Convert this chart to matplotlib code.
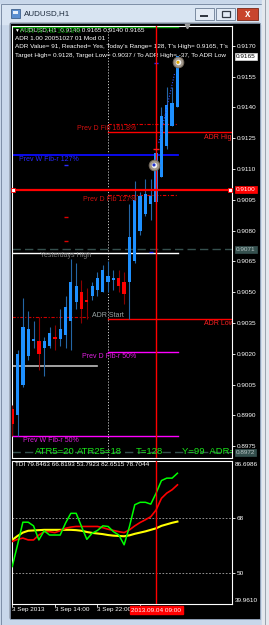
#!/usr/bin/env python3
"""AUDUSD H1 MetaTrader chart: candles with ADR / Fib levels and a TDI subwindow."""

import matplotlib

matplotlib.use("Agg")
import matplotlib.pyplot as plt
import numpy as np
from matplotlib.patches import Rectangle

W, H = 269, 625
PX = 0.72  # one pixel in points at dpi 100

# hourly bars, 3 Sep 2013 06:00 -> 4 Sep 2013 13:00
OPEN = [0.8993, 0.8990, 0.9005, 0.9019, 0.9026, 0.9026, 0.9023, 0.9024,
        0.9028, 0.9027, 0.9029, 0.9036, 0.9045, 0.9050, 0.9046, 0.9048,
        0.9051, 0.9050, 0.9055, 0.9056, 0.9057, 0.9055, 0.9055, 0.9065,
        0.9080, 0.9088, 0.9093, 0.9094, 0.9106, 0.9121, 0.9131, 0.9140]
HIGH = [0.8995, 0.9022, 0.9047, 0.9041, 0.9036, 0.9038, 0.9028, 0.9033,
        0.9034, 0.9042, 0.9048, 0.9066, 0.9064, 0.9056, 0.9052, 0.9055,
        0.9060, 0.9063, 0.9065, 0.9061, 0.9061, 0.9060, 0.9093, 0.9104,
        0.9099, 0.9105, 0.9105, 0.9120, 0.9140, 0.9150, 0.9150, 0.9165]
LOW = [0.8980, 0.8980, 0.9004, 0.9017, 0.9023, 0.9012, 0.9009, 0.9023,
       0.9022, 0.9024, 0.9023, 0.9022, 0.9042, 0.9035, 0.9037, 0.9046,
       0.9048, 0.9050, 0.9050, 0.9051, 0.9050, 0.9044, 0.9037, 0.9064,
       0.9078, 0.9087, 0.9085, 0.9093, 0.9106, 0.9120, 0.9131, 0.9140]
CLOSE = [0.8986, 0.9020, 0.9033, 0.9032, 0.9027, 0.9020, 0.9026, 0.9030,
         0.9027, 0.9032, 0.9043, 0.9055, 0.9053, 0.9042, 0.9045, 0.9053,
         0.9057, 0.9061, 0.9058, 0.9057, 0.9053, 0.9049, 0.9077, 0.9095,
         0.9097, 0.9098, 0.9097, 0.9118, 0.9136, 0.9141, 0.9142, 0.9165]

TDI_GREEN = [52.2, 59.3, 66.7, 66.7, 65.5, 60.9, 63.9, 62.5, 62.5, 62.5,
             66.4, 69.6, 69.6, 65.3, 61.1, 63.1, 64.0, 65.5, 65.3, 63.6,
             62.5, 59.3, 65.3, 72.4, 73.2, 73.2, 72.6, 76.2, 80.3, 81.1,
             81.1, 82.7]
TDI_RED = [60.4, 61.1, 61.5, 60.9, 60.9, 62.5, 63.6, 63.6, 63.3, 63.9,
           64.7, 65.1, 65.3, 65.3, 65.3, 65.3, 65.3, 64.9, 64.4, 64.0,
           63.6, 63.3, 64.2, 65.5, 66.6, 67.5, 68.5, 70.7, 74.5, 76.2,
           77.3, 78.9]
TDI_YELLOW = [60.9, 62.2, 63.3, 63.9, 64.0, 64.1, 64.2, 64.2, 64.2, 64.2,
              64.2, 64.2, 64.1, 63.9, 63.5, 63.2, 63.0, 62.8, 62.5, 62.3,
              62.2, 62.1, 62.4, 62.9, 63.3, 63.7, 64.2, 64.7, 65.5, 66.0,
              66.5, 66.9]
TDI_MAX, TDI_MIN = 86.6986, 39.9610
TDI_LEVELS = [68, 50]

PRICE_TICKS = [0.9170, 0.9155, 0.9140, 0.9125, 0.9110, 0.9095, 0.9080,
               0.9065, 0.9050, 0.9035, 0.9020, 0.9005, 0.8990, 0.8975]
PRICE_TOP, PRICE_BOTTOM = 0.91797, 0.89692

LEVEL_NAMES = ["Prev W Fib 161.8%", "Prev D Fib 161.8%", "ADR High",
               "Prev W Fib-r 127%", "Prev D Fib 127%", "Yesterdays High",
               "ADR Start", "ADR Low", "Prev D Fib-r 50%", "Prev W Fib-r 50%"]
LEVEL_PRICES = [0.9179, 0.9132, 0.9128, 0.9117, 0.90975, 0.9069,
                0.9038, 0.9037, 0.9021, 0.8980]
LEVEL_FROM = [0, 18, 18, 0, 18, 0, 0, 18, 18, 0]
LEVEL_TO = [31.1, 31.1, 41.3, 31.1, 31.1, 31.1, 14.6, 41.3, 31.1, 31.1]

HLINE_PRICE = 0.9100
BID_PRICE = 0.9165
GRAY_LINES = [0.9071, 0.8972]
OLD_LOW = 0.9014

DAY_START_BAR = 18
CURSOR_BAR = 27
SHIFT_BAR = 32.8
TIME_BARS = [0, 8, 16, 24]
TIME_LABELS = ["3 Sep 2013", "3 Sep 14:00", "3 Sep 22:00", ""]
CURSOR_LABEL = "2013.09.04 09:00"

ICON_BARS = [31.1, 26.6]
ICON_PRICES = [0.9162, 0.9112]

HEADER = ["AUDUSD,H1  0.9140 0.9165 0.9140 0.9165",
          "ADR 1.00 20051027 01 Mod 01",
          "ADR Value= 91, Reached= Yes, Today's Range= 128, T's High= 0.9165, T's",
          "Target High= 0.9128, Target Low= 0.9037 / To ADR High= -37, To ADR Low"]
ATR_TEXT = ["ATR5=20", "ATR25=18", "T=128", "Y=99  ADR=91"]
TDI_HEADER = "TDI 79.8463 66.8193 53.7923 82.6515 78.7044"


def px_axes(fig, x0, y0, x1, y1):
    return fig.add_axes([x0 / W, 1 - y1 / H, (x1 - x0) / W, (y1 - y0) / H])


def corner_text(ax, s, dx, dy, **kw):
    ax.annotate(s, xy=(0, 1), xycoords="axes fraction",
                xytext=(dx * PX, -dy * PX), textcoords="offset points",
                va="center", ha="left", annotation_clip=False, **kw)


def draw_chrome(bg):
    bg.add_patch(Rectangle((0, 0), W, H, color="#c8d7ea"))
    bg.add_patch(Rectangle((0, 4), 262, 20, color="#d8e4f2"))
    bg.add_patch(Rectangle((0.5, 4), 261, H - 4.5, fill=False, ec="#7d8ea6", lw=0.7))
    bg.add_patch(Rectangle((262, 0), 7, H, color="#e4e8ee"))
    bg.plot([264.5, 264.5], [0, H], color="#9aa3ad", lw=0.7)
    bg.add_patch(Rectangle((10, 23), 249, 595, color="black"))
    bg.add_patch(Rectangle((9.5, 22.5), 250, 596, fill=False, ec="#8a9ab0", lw=0.6))
    # window icon + title
    bg.add_patch(Rectangle((11, 9), 9, 9, fc="#5b8fd0", ec="#2d4f7c", lw=0.5))
    bg.add_patch(Rectangle((13, 11), 5, 3, fc="#e8f0fa", lw=0))
    bg.text(24, 14, "AUDUSD,H1", fontsize=5.8, color="#1b2a3c", va="center")
    # buttons
    bg.add_patch(Rectangle((195, 8), 19, 12, fc="#e3ebf5", ec="#6b7c94", lw=0.6))
    bg.add_patch(Rectangle((200, 14.5), 8, 2, fc="#333a44", lw=0))
    bg.add_patch(Rectangle((216, 8), 19, 12, fc="#e3ebf5", ec="#6b7c94", lw=0.6))
    bg.add_patch(Rectangle((221.5, 10.5), 8, 6.5, fill=False, ec="#333a44", lw=0.9))
    bg.add_patch(Rectangle((237, 8), 21, 12, fc="#c8452d", ec="#7b2616", lw=0.6))
    bg.text(247.5, 14, "x", fontsize=7, fontweight="bold", color="white",
            ha="center", va="center")


def draw_main(fig):
    ax = px_axes(fig, 12, 26, 232, 458)
    ax.set_facecolor("black")
    for sp in ax.spines.values():
        sp.set_color("white")
        sp.set_linewidth(0.8)
    ax.set_xlim(-0.04, 41.24)
    ax.set_ylim(PRICE_BOTTOM, PRICE_TOP)
    ax.set_xticks([])
    ax.yaxis.tick_right()
    ax.set_yticks(PRICE_TICKS)
    ax.set_yticklabels([f"{p:.4f}" for p in PRICE_TICKS])
    ax.tick_params(axis="y", colors="white", labelsize=4.6, length=2,
                   width=0.6, pad=1.5)

    o, h, l, c = map(np.array, (OPEN, HIGH, LOW, CLOSE))
    x = np.arange(len(o))
    bull = c >= o
    ax.vlines(x[bull], l[bull], h[bull], color="#2466a6", lw=0.8, zorder=3)
    ax.vlines(x[~bull], l[~bull], h[~bull], color="#8b0000", lw=0.8, zorder=3)
    body = np.maximum(np.abs(c - o), 0.00008)
    bottom = np.minimum(o, c)
    ax.bar(x[bull], body[bull], bottom=bottom[bull], width=0.62,
           color="#1e90ff", lw=0, zorder=4)
    ax.bar(x[~bull], body[~bull], bottom=bottom[~bull], width=0.62,
           color="#ff0000", lw=0, zorder=4)

    # vertical lines
    ax.axvline(DAY_START_BAR, color="#c8c8c8", ls=(0, (1.2, 1.8)), lw=0.7, zorder=2)
    ax.axvline(CURSOR_BAR, color="#ff0000", lw=1.0, zorder=6)

    # levels
    style = {
        "Prev W Fib 161.8%": dict(color="#00a000", ls="-", lw=1.0),
        "Prev D Fib 161.8%": dict(color="#e00000", ls=(0, (3, 1.5, 1, 1.5)), lw=0.8),
        "ADR High": dict(color="#ff0000", ls="-", lw=1.0),
        "Prev W Fib-r 127%": dict(color="#0a0aff", ls="-", lw=1.3),
        "Prev D Fib 127%": dict(color="#e00000", ls=(0, (3, 1.5, 1, 1.5)), lw=0.8),
        "Yesterdays High": dict(color="#ffffff", ls="-", lw=1.0),
        "ADR Start": dict(color="#d00000", ls=(0, (3, 1.5, 1, 1.5)), lw=0.8),
        "ADR Low": dict(color="#ff0000", ls="-", lw=1.0),
        "Prev D Fib-r 50%": dict(color="#ff00ff", ls="-", lw=1.0),
        "Prev W Fib-r 50%": dict(color="#ff00ff", ls="-", lw=1.0),
    }
    # label: (bar, ha, dy in px, colour)
    label = {
        "Prev W Fib 161.8%": (1.5, "left", -4, "#008800"),
        "Prev D Fib 161.8%": (23.3, "right", -5, "#d41010"),
        "ADR High": (36.0, "left", -5, "#ff2020"),
        "Prev W Fib-r 127%": (12.4, "right", -5, "#2a2aff"),
        "Prev D Fib 127%": (23.3, "right", -5, "#d41010"),
        "Yesterdays High": (5.2, "left", -2, "#808080"),
        "ADR Start": (15.0, "left", 1, "#9aa4a4"),
        "ADR Low": (36.0, "left", -5, "#ff2020"),
        "Prev D Fib-r 50%": (23.3, "right", -5, "#e020e0"),
        "Prev W Fib-r 50%": (12.4, "right", -5, "#e020e0"),
    }
    for name, p, x0, x1 in zip(LEVEL_NAMES, LEVEL_PRICES, LEVEL_FROM, LEVEL_TO):
        ax.plot([x0, x1], [p, p], zorder=2, **style[name])
        bx, ha, dy, col = label[name]
        ax.annotate(name, xy=(bx, p), xytext=(0, dy * PX), textcoords="offset points",
                    ha=ha, va="center", fontsize=5, color=col, clip_on=True,
                    annotation_clip=True, zorder=5)

    for p in GRAY_LINES:
        ax.axhline(p, color="#35504e", ls=(0, (6, 3)), lw=1.0, zorder=1)
    ax.plot([0, 15.9], [OLD_LOW, OLD_LOW], color="#bdbdbd", lw=1.2, zorder=2)

    # selected horizontal line with handles
    ax.axhline(HLINE_PRICE, color="#ff0000", lw=1.6, zorder=5)
    ax.plot([0.15, 40.95], [HLINE_PRICE, HLINE_PRICE], ls="none", marker="s",
            ms=2.6, mfc="white", mec="#ff0000", mew=0.6, zorder=6, clip_on=False)

    # small marks
    ax.plot([10, 10], [0.90868, 0.90747], ls="none", marker="_", ms=3.5,
            mew=1.0, color="#e00000", zorder=5)
    ax.plot([10.1, 26.1, 27], [0.91121, 0.90698, 0.91617], ls="none", marker="_",
            ms=3, mew=1.0, color="#2a2aff", zorder=5)
    ax.plot([27], [0.91199], ls="none", marker="_", ms=4, mew=1.0,
            color="#ff2020", zorder=7)
    ax.plot([27.5, 30.5], [0.91228, 0.91569], color="#3050ff",
            ls=(0, (1, 1.5)), lw=0.8, zorder=5)

    # chart icons
    ax.scatter(ICON_BARS, ICON_PRICES, s=60, c="#a0968a", edgecolors="#6e6458",
               linewidths=0.6, zorder=8)
    ax.scatter(ICON_BARS, ICON_PRICES, s=16, c="#f0f0f0", lw=0, zorder=9)
    ax.scatter(ICON_BARS, ICON_PRICES, s=5, c=["#e0a800", "#2030d0"], lw=0,
               zorder=10)
    # chart shift marker
    ax.plot([SHIFT_BAR], [PRICE_TOP], ls="none", marker="v", ms=3.2,
            color="#9a9a9a", clip_on=False, zorder=8)

    # header texts
    corner_text(ax, "\u25bc", 2, 4, fontsize=3.5, color="white")
    corner_text(ax, HEADER[0], 8, 4, fontsize=4.6, color="white", clip_on=True)
    for i, s in enumerate(HEADER[1:]):
        corner_text(ax, s, 3, 12.5 + 8.3 * i, fontsize=4.6, color="white",
                    clip_on=True)

    # ATR status line
    for s, dx in zip(ATR_TEXT, [23, 65, 124, 170]):
        ax.annotate(s, xy=(0, 0), xycoords="axes fraction",
                    xytext=(dx * PX, 7 * PX), textcoords="offset points",
                    va="center", ha="left", fontsize=6.8, color="#19e619",
                    clip_on=True, zorder=7)

    # boxed price labels
    boxed = [(BID_PRICE, "white", "black"), (HLINE_PRICE, "#ff0000", "white"),
             (GRAY_LINES[0], "#35504e", "#b8c4c4"), (GRAY_LINES[1], "#35504e", "#b8c4c4")]
    for p, fc, tc in boxed:
        ax.annotate(f"{p:.4f}", xy=(1, p), xycoords=("axes fraction", "data"),
                    xytext=(4 * PX, 0), textcoords="offset points", va="center",
                    ha="left", fontsize=4.6, color=tc, annotation_clip=False,
                    bbox=dict(boxstyle="square,pad=0.15", fc=fc, ec="#dddddd"
                              if fc == "white" else fc, lw=0.5))
    return ax


def draw_tdi(fig):
    ax = px_axes(fig, 12, 461, 232, 604)
    ax.set_facecolor("black")
    for sp in ax.spines.values():
        sp.set_color("white")
        sp.set_linewidth(0.8)
    ax.set_xlim(-0.04, 41.24)
    ax.set_ylim(TDI_MIN, TDI_MAX)
    x = np.arange(len(TDI_GREEN))
    for lvl in TDI_LEVELS:
        ax.axhline(lvl, color="#a8a8a8", ls=(0, (2, 2)), lw=0.6)
    ax.plot(x, TDI_YELLOW, color="#ffff00", lw=1.5, zorder=3)
    ax.plot(x, TDI_RED, color="#ff0000", lw=1.2, zorder=4)
    ax.plot(x, TDI_GREEN, color="#00ff00", lw=1.1, zorder=5)
    ax.axvline(CURSOR_BAR, color="#ff0000", lw=1.0, zorder=6)

    ax.yaxis.tick_right()
    ax.set_yticks(TDI_LEVELS)
    ax.set_yticklabels([str(v) for v in TDI_LEVELS])
    ax.tick_params(axis="y", colors="white", labelsize=4.6, length=2,
                   width=0.6, pad=1.5)
    ax.annotate(f"{TDI_MAX:.4f}", xy=(1, 1), xycoords="axes fraction",
                xytext=(3 * PX, -4 * PX), textcoords="offset points",
                va="center", ha="left", fontsize=4.6, color="white")
    ax.annotate(f"{TDI_MIN:.4f}", xy=(1, 0), xycoords="axes fraction",
                xytext=(3 * PX, 4 * PX), textcoords="offset points",
                va="center", ha="left", fontsize=4.6, color="white")
    corner_text(ax, TDI_HEADER, 3, 4, fontsize=4.6, color="white", clip_on=True)

    ax.set_xticks(TIME_BARS)
    ax.set_xticklabels([])
    ax.tick_params(axis="x", colors="white", length=2, width=0.6)
    for b, s in zip(TIME_BARS, TIME_LABELS):
        ax.annotate(s, xy=(b, 0), xycoords=("data", "axes fraction"),
                    xytext=(0, -6 * PX), textcoords="offset points", va="center",
                    ha="left", fontsize=4.6, color="white", annotation_clip=False)
    ax.annotate(CURSOR_LABEL, xy=(CURSOR_BAR, 0), xycoords=("data", "axes fraction"),
                xytext=(0, -6 * PX), textcoords="offset points", va="center",
                ha="center", fontsize=4.6, color="white", annotation_clip=False,
                bbox=dict(boxstyle="square,pad=0.25", fc="#ff0000", ec="#ff0000"))
    return ax


def main():
    plt.rcParams["font.family"] = ["Liberation Sans", "DejaVu Sans"]
    fig = plt.figure(figsize=(W / 100, H / 100), dpi=100)
    bg = fig.add_axes([0, 0, 1, 1])
    bg.set_xlim(0, W)
    bg.set_ylim(H, 0)
    bg.axis("off")
    draw_chrome(bg)
    draw_main(fig)
    draw_tdi(fig)
    fig.savefig("out.png", dpi=100)


if __name__ == "__main__":
    main()
